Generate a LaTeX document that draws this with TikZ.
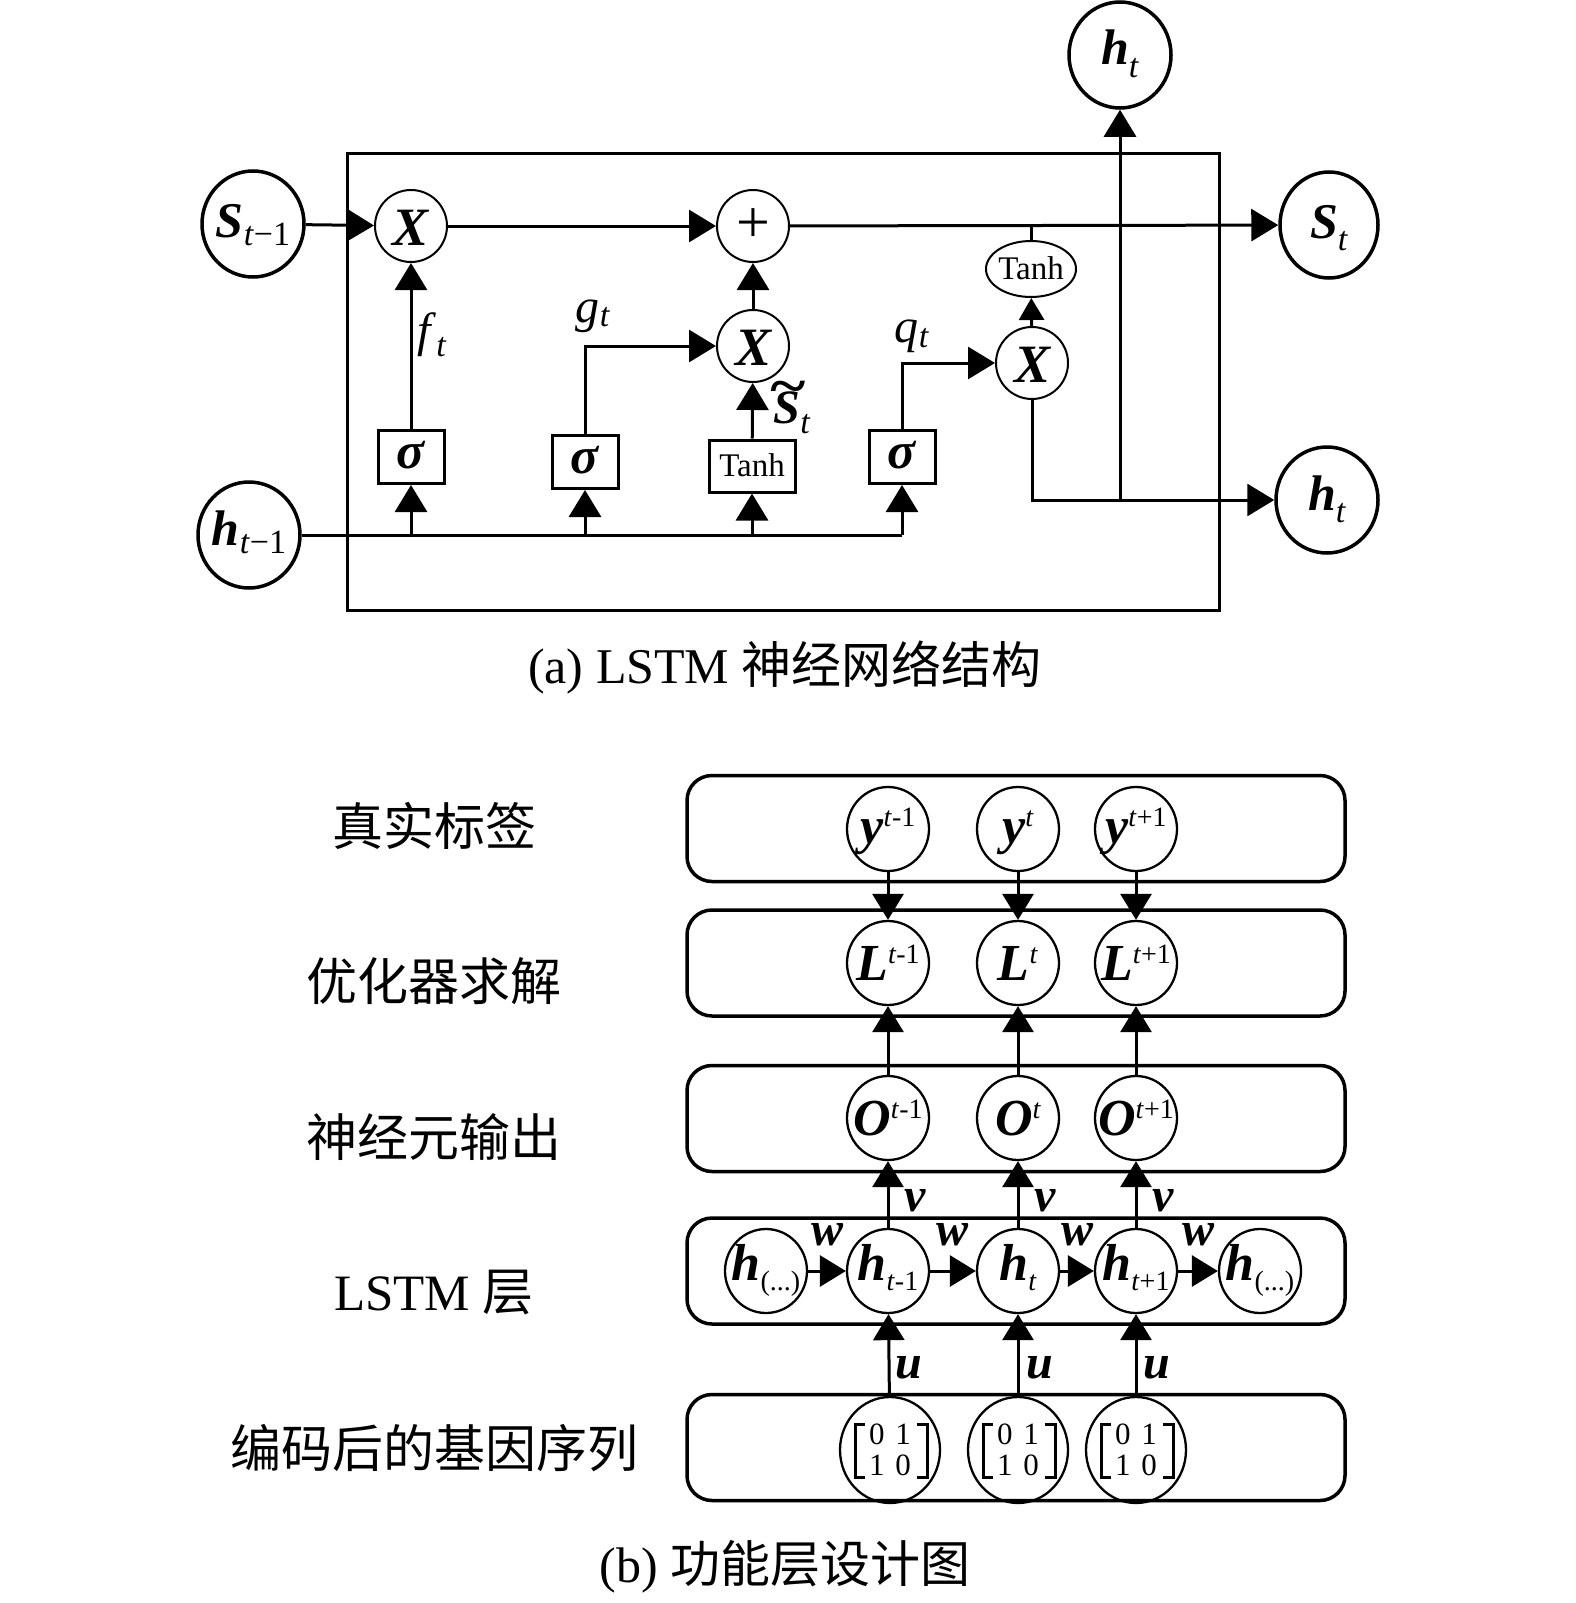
\documentclass[tikz,border=0pt]{standalone}
\usepackage{fontspec}
\setmainfont{Liberation Serif}
\newfontfamily\cjk{Noto Sans CJK SC}
\usetikzlibrary{arrows.meta,shapes.geometric,calc}
\newcommand\bi[1]{{\bfseries\itshape #1}}
\newcommand\ctr[2][-0.3em]{\makebox[0pt]{\raisebox{#1}[0pt][0pt]{#2}}}
\newcommand\Sub[2][-0.16em]{\raisebox{#1}{\fontsize{34}{34}\selectfont #2}}
\newcommand\Sup[1]{\raisebox{0.33em}{\fontsize{28}{28}\selectfont #1}}
\newcommand\SubB[1]{\raisebox{-0.2em}{\fontsize{28}{28}\selectfont #1}}
\begin{document}
\begin{tikzpicture}[x=1pt,y=-1pt,
  ln/.style={line width=3pt},
  arr/.style={line width=3pt,-{Triangle[length=27pt,width=32pt]}},
  arrs/.style={line width=3pt,-{Triangle[length=22pt,width=25pt]}},
  arrb/.style={line width=3pt,-{Triangle[length=26pt,width=31pt]}},
  big/.style={ellipse,draw,line width=3.5pt,minimum width=102pt,minimum height=106pt,inner sep=0pt,font=\fontsize{50}{60}\selectfont},
  op/.style={circle,draw,line width=2pt,minimum size=72pt,inner sep=0pt,font=\fontsize{54}{60}\selectfont},
  gate/.style={rectangle,draw,line width=3pt,minimum width=66pt,minimum height=53pt,inner sep=0pt,font=\fontsize{52}{60}\selectfont},
  lbl/.style={inner sep=0pt,font=\fontsize{48}{56}\selectfont},
  captxt/.style={inner sep=0pt,font=\fontsize{50}{60}\selectfont},
  rowbox/.style={rectangle,rounded corners=25pt,draw,line width=3.5pt,minimum width=658pt,minimum height=106pt,inner sep=0pt},
  ov/.style={ellipse,draw,line width=2.3pt,minimum width=82pt,minimum height=84pt,inner sep=0pt,font=\fontsize{52}{60}\selectfont},
  mv/.style={ellipse,draw,line width=2.3pt,minimum width=100pt,minimum height=106pt,inner sep=0pt,align=center,font=\fontsize{31}{31}\selectfont},
  wl/.style={inner sep=0pt,font=\fontsize{48}{56}\bfseries\itshape},
  brk/.style={line width=3pt},
  side/.style={inner sep=0pt,font=\fontsize{51}{60}\selectfont}
]
\useasboundingbox (0,0) rectangle (1575,1603);

% ---------------- (a) ----------------
\node[draw,line width=3pt,minimum width=872pt,minimum height=457pt,inner sep=0pt] (cell) at (783,381.5) {};

\node[big] (Sp) at (253,224) {\ctr[-0.26em]{\bi{S}\Sub{\textit{t}−1}}};
\node[big] (hp) at (249,535) {\ctr[-0.2em]{\bi{h}\Sub{\textit{t}−1}}};
\node[big,minimum width=98pt] (St) at (1329,225) {\ctr[-0.26em]{\bi{S}\Sub[-0.25em]{\textit{t}}}};
\node[big] (ht) at (1327,500) {\ctr[-0.2em]{\bi{h}\Sub[-0.25em]{\textit{t}}}};
\node[big] (htop) at (1120,55) {\ctr[-0.2em]{\bi{h}\Sub[-0.25em]{\textit{t}}}};

\node[op] (x1) at (411,226) {\ctr[-0.36em]{\bi{X}}};
\node[op] (plus) at (753,226) {\ctr[-0.3em]{\fontsize{60}{60}\selectfont +}};
\node[op] (x2) at (753,346) {\ctr[-0.36em]{\bi{X}}};
\node[op] (x3) at (1032,363) {\ctr[-0.36em]{\bi{X}}};
\node[ellipse,draw,line width=2pt,minimum width=90pt,minimum height=56pt,inner sep=0pt,font=\fontsize{33}{40}\selectfont] (tanhE) at (1031,269) {\ctr[-0.33em]{Tanh}};

\node[gate] (g1) at (411,457) {\ctr[-0.23em]{\bi{σ}}};
\node[gate] (g2) at (585,462) {\ctr[-0.23em]{\bi{σ}}};
\node[gate,minimum width=86pt,minimum height=52pt,font=\fontsize{33}{40}\selectfont] (tb) at (752,466) {\ctr[-0.33em]{Tanh}};
\node[gate] (g3) at (902,457) {\ctr[-0.23em]{\bi{σ}}};

% h_{t-1} bus
\draw[ln] (hp) -- (g3 |- hp);
\draw[arr] (g1 |- hp) -- (g1);
\draw[arr] (g2 |- hp) -- (g2);
\draw[arr] (tb |- hp) -- (tb);
\draw[arr] (g3 |- hp) -- (g3);

\draw[arr] (Sp) -- (x1);
\draw[arr] (g1) -- (x1);
\draw[arr] (x1) -- (plus);
\draw[arr] (g2.north) |- (x2);
\draw[arr] (tb) -- (x2);
\draw[arr] (x2) -- (plus);
\draw[arr] (plus) -- (St);
\draw[ln] (tanhE.north) -- (tanhE.north |- plus);
\draw[arrs] (x3) -- (tanhE);
\draw[arr] (g3.north) |- (x3);
\draw[arr] (x3.south) |- (ht);
\draw[arr] (htop |- ht) -- (htop);

\node[lbl] (ft) at (432,335) {\textit{f}\Sub[-0.2em]{\textit{t}}};
\node[lbl] (gt) at (593,316) {\textit{g}\Sub[-0.1em]{\textit{t}}};
\node[lbl] (qt) at (912,336) {\textit{q}\Sub[-0.1em]{\textit{t}}};
\node[lbl] (stl) at (792,413) {\bi{\rlap{\kern-0.1em\raisebox{0.4em}[0.66em][0pt]{\scalebox{1.4}[1.15]{\textasciitilde}}}S}\Sub[-0.2em]{\textit{t}}};

\node[captxt] (capA) at (785,667) {(a) LSTM {\cjk 神经网络结构}};

% ---------------- (b) ----------------
\node[rowbox] (r1) at (1016,828.5) {};
\node[rowbox] (r2) at (1016,963) {};
\node[rowbox] (r3) at (1016,1118.5) {};
\node[rowbox] (r4) at (1016,1271) {};
\node[rowbox] (r5) at (1016,1447.5) {};

\node[side] (t1) at (434,826) {\cjk 真实标签};
\node[side] (t2) at (434,981) {\cjk 优化器求解};
\node[side] (t3) at (434,1137) {\cjk 神经元输出};
\node[side] (t4) at (434,1293) {LSTM {\cjk 层}};
\node[side] (t5) at (434,1448) {\cjk 编码后的基因序列};

\node[ov] (y1) at (888,829) {\ctr[-0.28em]{\bi{y}\Sup{\textit{t}-1}}};
\node[ov] (y2) at (1018,829) {\ctr[-0.28em]{\bi{y}\Sup{\textit{t}}}};
\node[ov] (y3) at (1136,829) {\ctr[-0.28em]{\bi{y}\Sup{\textit{t}+1}}};

\node[ov] (L1) at (888,963) {\ctr[-0.33em]{\bi{L}\Sup{\textit{t}-1}}};
\node[ov] (L2) at (1018,963) {\ctr[-0.33em]{\bi{L}\Sup{\textit{t}}}};
\node[ov] (L3) at (1136,963) {\ctr[-0.33em]{\bi{L}\Sup{\textit{t}+1}}};

\node[ov] (O1) at (888,1118) {\ctr[-0.33em]{\bi{O}\Sup{\textit{t}-1}}};
\node[ov] (O2) at (1018,1118) {\ctr[-0.33em]{\bi{O}\Sup{\textit{t}}}};
\node[ov] (O3) at (1136,1118) {\ctr[-0.33em]{\bi{O}\Sup{\textit{t}+1}}};

\node[ov] (h0) at (766,1271) {\ctr[-0.18em]{\bi{h}\SubB{(...)}}};
\node[ov] (h1) at (888,1271) {\ctr[-0.18em]{\bi{h}\SubB{\textit{t}-1}}};
\node[ov] (h2) at (1018,1271) {\ctr[-0.18em]{\bi{h}\SubB{\textit{t}}}};
\node[ov] (h3) at (1136,1271) {\ctr[-0.18em]{\bi{h}\SubB{\textit{t}+1}}};
\node[ov] (h4) at (1260,1271) {\ctr[-0.18em]{\bi{h}\SubB{(...)}}};

\node[mv] (m1) at (890,1450) {0\hspace{0.35em}1\\1\hspace{0.35em}0};
\node[mv] (m2) at (1018,1450) {0\hspace{0.35em}1\\1\hspace{0.35em}0};
\node[mv] (m3) at (1136,1450) {0\hspace{0.35em}1\\1\hspace{0.35em}0};
\foreach \m in {m1,m2,m3}{
  \draw[brk] ($(\m)+(-25,-26)$) -- ++(-10,0) -- ++(0,53) -- ++(10,0);
  \draw[brk] ($(\m)+(27,-26)$) -- ++(10,0) -- ++(0,53) -- ++(-10,0);
}

\foreach \a/\b in {y1/L1,y2/L2,y3/L3,O1/L1,O2/L2,O3/L3,h1/O1,h2/O2,h3/O3,m1/h1,m2/h2,m3/h3,h0/h1,h1/h2,h2/h3,h3/h4}{
  \draw[arrb] (\a) -- (\b);
}

\node[wl] (v1) at (915,1201) {v};
\node[wl] (v2) at (1045,1201) {v};
\node[wl] (v3) at (1163,1201) {v};
\node[wl] (w1) at (827,1235) {w};
\node[wl] (w2) at (952,1235) {w};
\node[wl] (w3) at (1077,1235) {w};
\node[wl] (w4) at (1198,1235) {w};
\node[wl] (u1) at (909,1368) {u};
\node[wl] (u2) at (1040,1368) {u};
\node[wl] (u3) at (1157,1368) {u};

\node[captxt] (capB) at (785,1567) {(b) {\cjk 功能层设计图}};
\end{tikzpicture}
\end{document}
